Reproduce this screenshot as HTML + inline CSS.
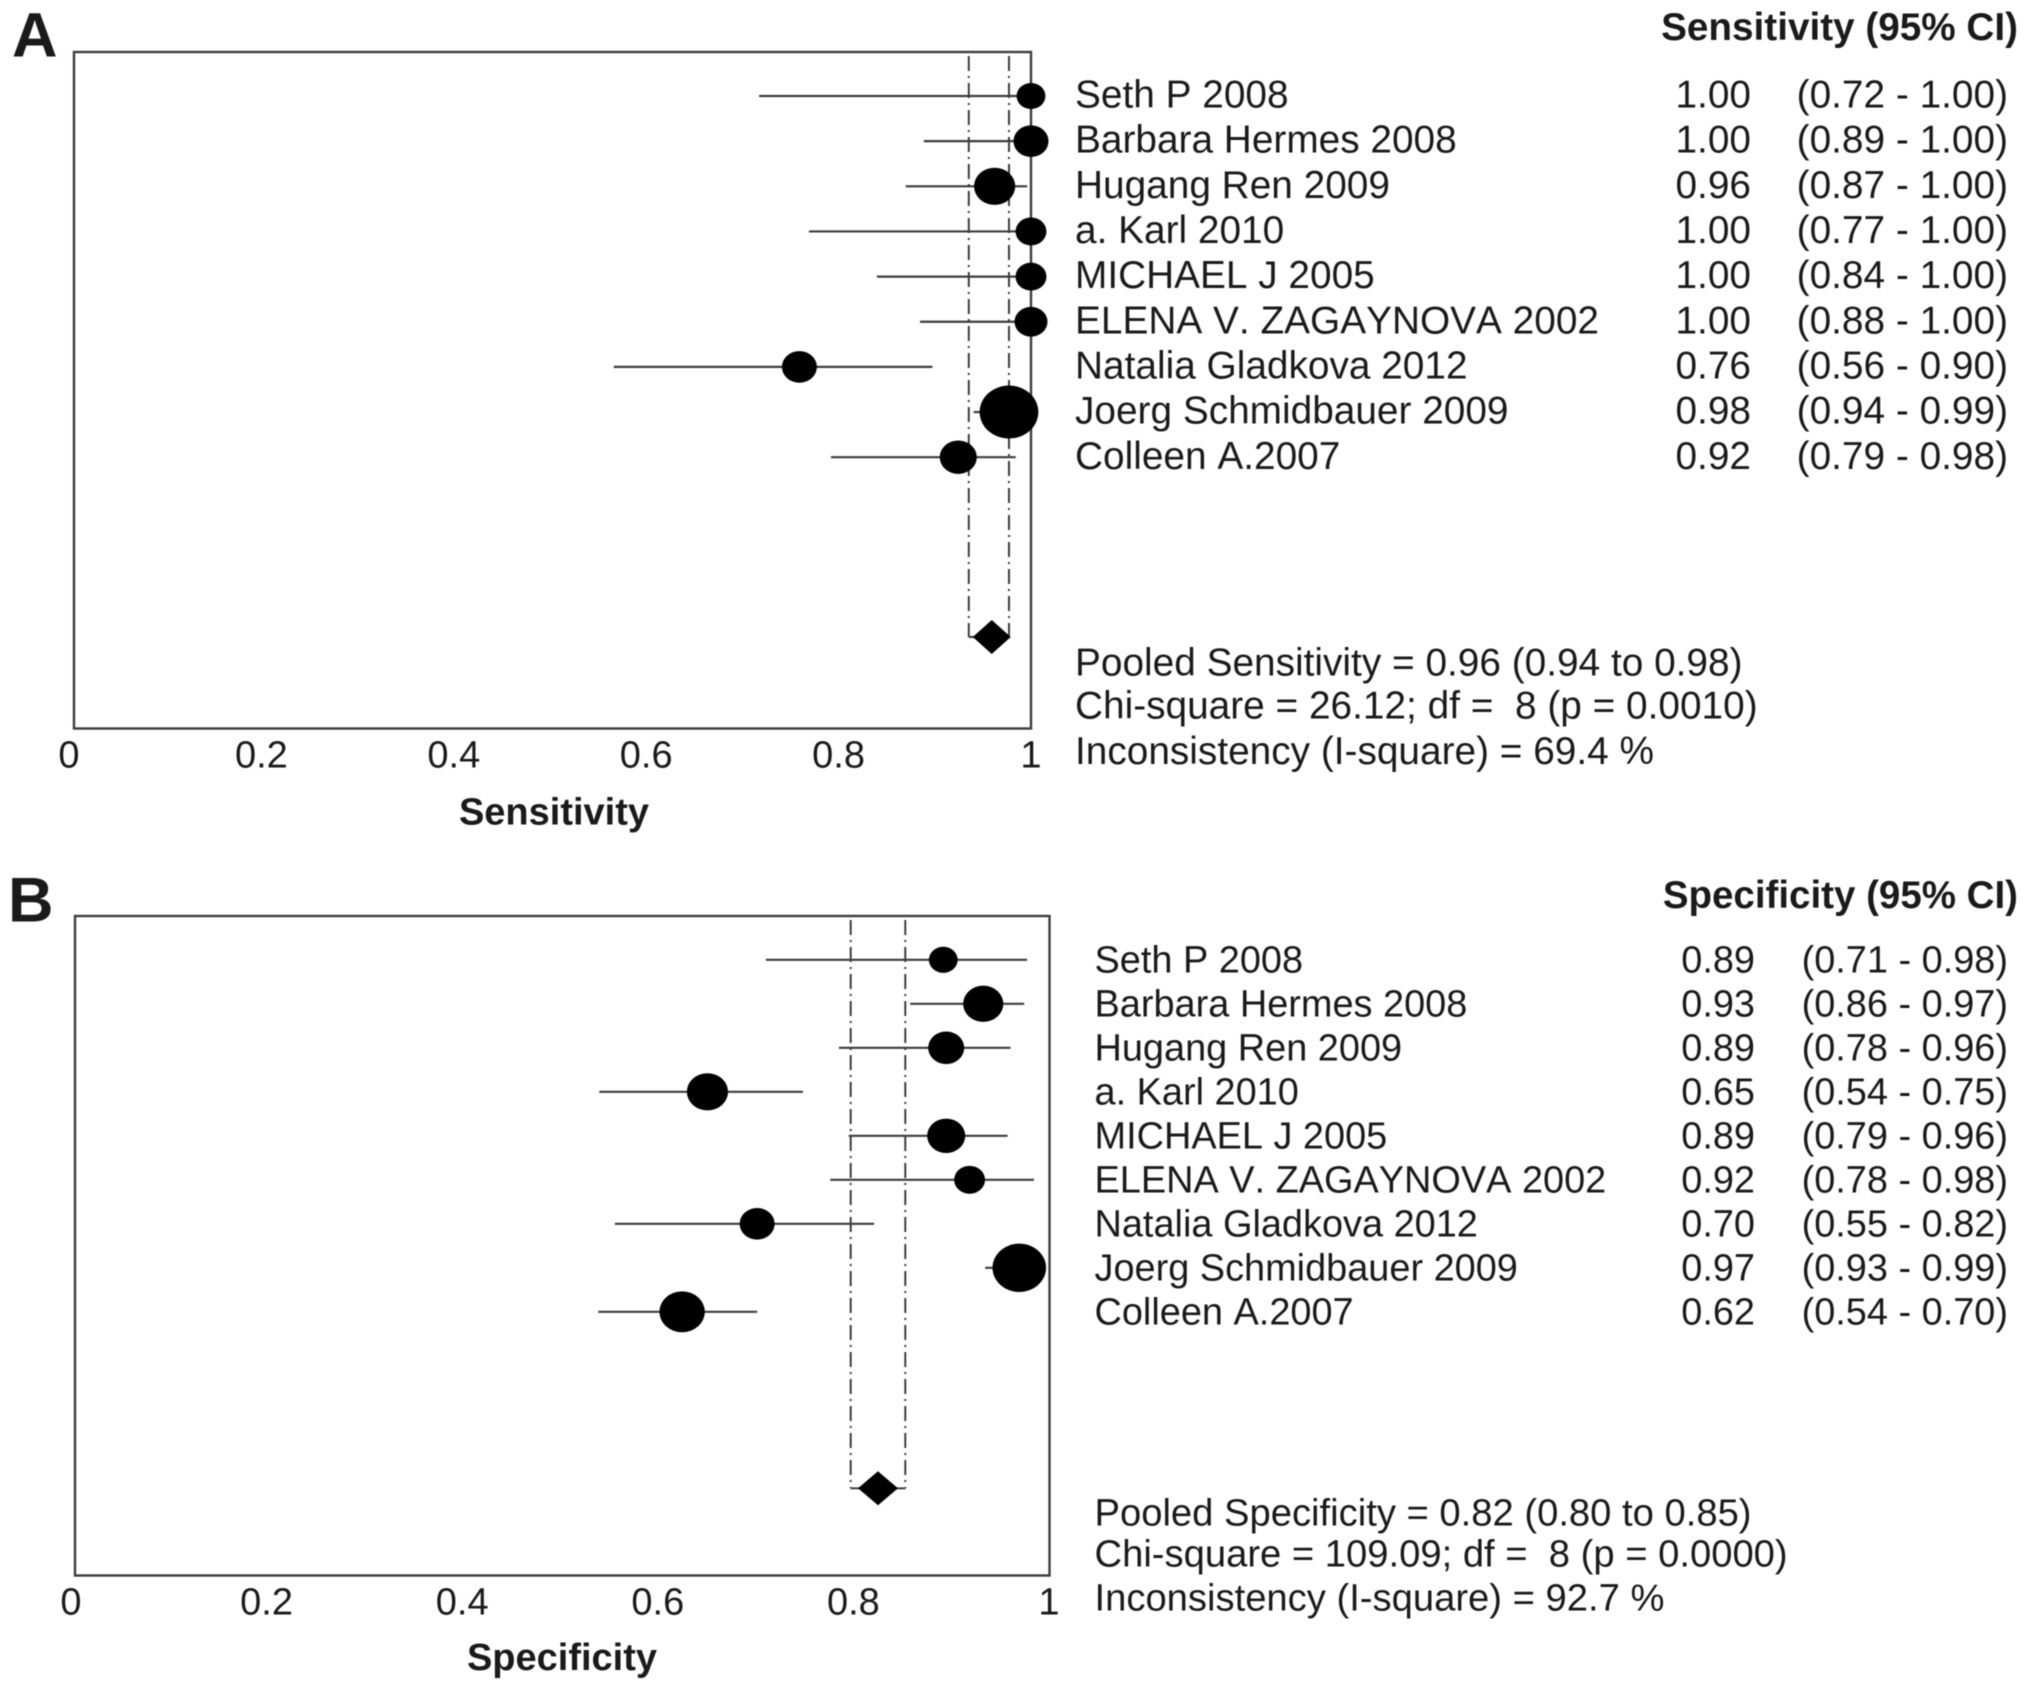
<!DOCTYPE html>
<html lang="en">
<head>
<meta charset="utf-8">
<title>Forest plots of sensitivity and specificity</title>
<style>
html,body{margin:0;padding:0;background:#fff;width:2031px;height:1689px;overflow:hidden}
svg{display:block;filter:blur(.6px)}
text{font-family:"Liberation Sans",Arial,sans-serif;fill:#1a1a1a;font-kerning:none}
</style>
</head>
<body>
<svg id="figure" xmlns="http://www.w3.org/2000/svg" width="2031" height="1689" viewBox="0 0 2031 1689"></svg>
<script>
// ---------- data ----------
const studies = ['Seth P 2008','Barbara Hermes 2008','Hugang Ren 2009','a. Karl 2010','MICHAEL J 2005','ELENA V. ZAGAYNOVA 2002','Natalia Gladkova 2012','Joerg Schmidbauer 2009','Colleen A.2007'];
const tickValues = [0,0.2,0.4,0.6,0.8,1];
const tickLabels = ['0','0.2','0.4','0.6','0.8','1'];

const sensPoint = [1.00,1.00,0.962,1.00,1.00,1.00,0.758,0.977,0.924];
const sensLow   = [0.716,0.888,0.869,0.768,0.839,0.884,0.564,0.94,0.791];
const sensHigh  = [1.00,1.00,0.996,1.00,1.00,1.00,0.897,0.99,0.984];
const sensWeight = [196,289,400,225,225,256,289,812,324];
const sensPooled = [0.959,0.935,0.977];
const sensStats = ['Pooled Sensitivity = 0.96 (0.94 to 0.98)','Chi-square = 26.12; df =  8 (p = 0.0010)','Inconsistency (I-square) = 69.4 %'];

const specPoint = [0.891,0.932,0.894,0.649,0.894,0.918,0.70,0.969,0.623];
const specLow   = [0.709,0.857,0.784,0.538,0.794,0.775,0.554,0.934,0.537];
const specHigh  = [0.977,0.974,0.96,0.747,0.957,0.984,0.82,0.99,0.70];
const specWeight = [196,380,306,400,342,225,289,676,484];
const specPooled = [0.824,0.796,0.852];
const specStats = ['Pooled Specificity = 0.82 (0.80 to 0.85)','Chi-square = 109.09; df =  8 (p = 0.0000)','Inconsistency (I-square) = 92.7 %'];

// ---------- helpers ----------
const NS = 'http://www.w3.org/2000/svg';
const root = document.getElementById('figure');
function make(tag, attrs, parent){
  const e = document.createElementNS(NS, tag);
  for (const k in attrs) e.setAttribute(k, attrs[k]);
  parent.appendChild(e);
  return e;
}
function label(parent, str, x, yc, size, anchor, bold){
  const t = make('text', {x:x, y:yc + size*0.358, 'font-size':size, 'text-anchor':anchor, 'font-weight':bold ? 'bold':'normal'}, parent);
  t.setAttribute('xml:space','preserve');
  t.style.whiteSpace = 'pre';
  t.textContent = str;
  return t;
}

function drawPanel(p){
  const g = make('g', {}, root);
  
  

  const xScale = v => p.left + (p.right - p.left) * v;
  const tickX = v => p.tick0 + (p.tick1 - p.tick0) * v;
  const rowY = i => p.rowTop + p.rowStep * i;

  const letter = label(g, p.letter, p.letterX, p.letterY, 63, 'start', true);
  
  

  const frame = make('rect', {x:p.left, y:p.top, width:p.right-p.left, height:p.bottom-p.top, fill:'none', stroke:'#3c3c3c', 'stroke-width':2.4}, g);
  
  

  // pooled CI reference lines
  [p.pooled[1], p.pooled[2]].forEach(v => {
    const ref = make('line', {x1:xScale(v), x2:xScale(v), y1:p.top+4, y2:p.pooledY, stroke:'#333', 'stroke-width':1.9, 'stroke-dasharray':'15 5 2 5'}, g);
    
    
  });
  const bracket = make('line', {x1:xScale(p.pooled[1]), x2:xScale(p.pooled[2]), y1:p.pooledY, y2:p.pooledY, stroke:'#333', 'stroke-width':1.9}, g);
  
  

  const cx = xScale(p.pooled[0]);
  const dia = make('polygon', {points:[cx-p.diaW,p.pooledY, cx,p.pooledY-17, cx+p.diaW,p.pooledY, cx,p.pooledY+17].join(' '), fill:'#000'}, g);
  
  

  // study rows
  studies.forEach((name, i) => {
    const y = rowY(i);
    const ci = make('line', {x1:xScale(p.low[i]), x2:xScale(p.high[i]), y1:y, y2:y, stroke:'#3c3c3c', 'stroke-width':2.2}, g);
    
    

    const r = Math.sqrt(p.weight[i]);
    const dot = make('ellipse', {cx:xScale(p.point[i]), cy:y, rx:r*1.03, ry:r*0.93, fill:'#000'}, g);
    
    

    const ty = y + p.textShift;
    const lab = label(g, name, p.labelX, ty, p.fs, 'start', false);
    
    

    const val = label(g, p.point[i].toFixed(2), p.valueEnd, ty, p.fs, 'end', false);
    
    

    const rng = label(g, '(' + p.low[i].toFixed(2) + ' - ' + p.high[i].toFixed(2) + ')', p.ciEnd, ty, p.fs, 'end', false);
    
    
  });

  // ticks
  tickValues.forEach((v, i) => {
    const t = label(g, tickLabels[i], tickX(v), p.tickY, 38, 'middle', false);
    
    
  });

  const xt = label(g, p.title, p.titleX, p.titleY, 38, 'middle', true);
  
  

  const hd = label(g, p.title + ' (95% CI)', 2018, p.headerY, p.headerFs, 'end', true);
  
  

  p.stats.forEach((s, i) => {
    const st = label(g, s, p.labelX, p.statY[i], p.statFs, 'start', false);
    
    
  });
}

drawPanel({panelName:'sensitivity-panel', letter:'A', letterX:12, letterY:34, title:'Sensitivity',
  left:74, right:1031, top:52, bottom:728.5, tick0:69, tick1:1031, tickY:754,
  rowTop:96, rowStep:45.15, pooledY:637, diaW:19, textShift:-2.3, fs:38.8, statFs:38.8, headerFs:38.7,
  labelX:1075, valueEnd:1751, ciEnd:2008, titleX:554, titleY:811, headerY:26, statY:[661.5,704.5,750],
  point:sensPoint, low:sensLow, high:sensHigh, weight:sensWeight, pooled:sensPooled, stats:sensStats});

drawPanel({panelName:'specificity-panel', letter:'B', letterX:8, letterY:899, title:'Specificity',
  left:75, right:1049.5, top:916, bottom:1575.5, tick0:71, tick1:1049, tickY:1601,
  rowTop:959.8, rowStep:44, pooledY:1488.3, diaW:20, textShift:-1, fs:37.9, statFs:38.2, headerFs:38.5,
  labelX:1094.5, valueEnd:1755, ciEnd:2008, titleX:562, titleY:1656.5, headerY:894, statY:[1511.6,1553,1597],
  point:specPoint, low:specLow, high:specHigh, weight:specWeight, pooled:specPooled, stats:specStats});
</script>
</body>
</html>
